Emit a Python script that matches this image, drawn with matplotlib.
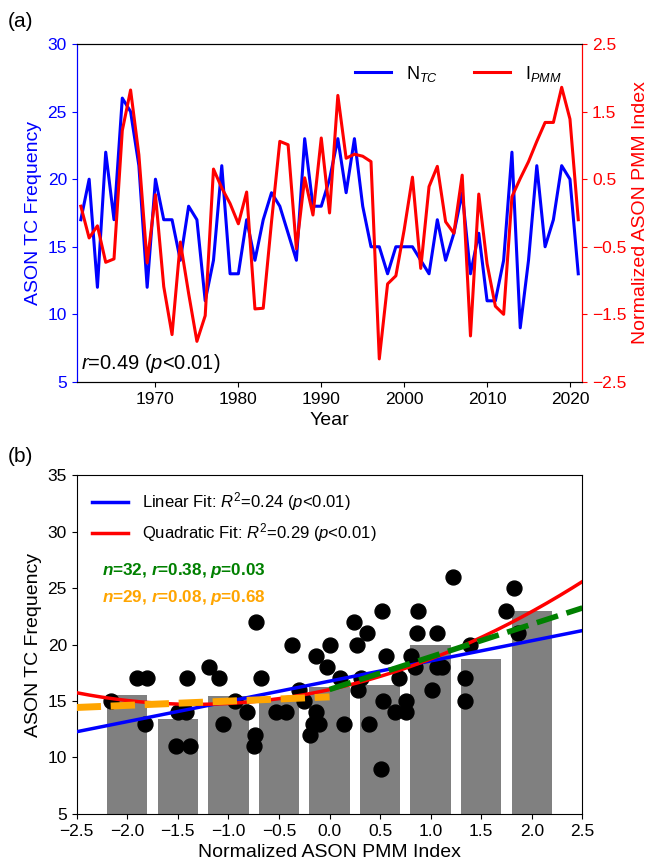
import matplotlib
matplotlib.use("Agg")
import matplotlib.pyplot as plt
import numpy as np

plt.rcParams["font.family"] = ["Liberation Sans", "DejaVu Sans"]
plt.rcParams["mathtext.fontset"] = "custom"
plt.rcParams["mathtext.rm"] = "Liberation Sans"
plt.rcParams["mathtext.it"] = "Liberation Sans:italic"
plt.rcParams["mathtext.bf"] = "Liberation Sans:bold"
if "mathtext.bfit" in plt.rcParams:
    plt.rcParams["mathtext.bfit"] = "Liberation Sans:bold:italic"

# yearly series 1961-2021
years = list(range(1961, 2022))
n_tc = [17, 20, 12, 22, 17, 26, 25, 21, 12, 20,
        17, 17, 14, 18, 17, 11, 14, 21, 13, 13,
        17, 14, 17, 19, 18, 16, 14, 23, 18, 18,
        20, 23, 19, 23, 18, 15, 15, 13, 15, 15,
        15, 14, 13, 17, 14, 16, 19, 13, 16, 11,
        11, 14, 22, 9, 14, 21, 15, 17, 21, 20, 13]
i_pmm = [0.10, -0.37, -0.19, -0.73, -0.68, 1.22, 1.82, 0.86, -0.74, 0.27,
         -1.09, -1.80, -0.43, -1.19, -1.90, -1.52, 0.65, 0.37, 0.14, -0.16,
         0.31, -1.42, -1.41, -0.13, 1.06, 1.01, -0.53, 0.52, -0.03, 1.11,
         0.00, 1.74, 0.81, 0.87, 0.84, 0.76, -2.16, -1.05, -0.93, -0.25,
         0.53, -0.82, 0.39, 0.69, -0.13, -0.30, 0.56, -1.82, 0.28, -0.75,
         -1.38, -1.50, 0.24, 0.51, 0.76, 1.06, 1.34, 1.34, 1.86, 1.39, -0.10]

# binned means for panel (b)
bin_centers = [-2.0, -1.5, -1.0, -0.5, 0.0, 0.5, 1.0, 1.5, 2.0]
bin_means = [15.5, 13.4, 15.4, 15.3, 16.2, 16.4, 20.0, 18.7, 23.0]

TICK = 12.5; LAB = 14

fig = plt.figure(figsize=(6.5, 8.64), dpi=100)

# ---- (a) time series
ax1 = fig.add_axes([0.118, 0.558, 0.778, 0.391])
ax2 = ax1.twinx()
l1, = ax1.plot(years, n_tc, color="blue", lw=2.2, label="N$_{TC}$")
l2, = ax2.plot(years, i_pmm, color="red", lw=2.2, label="I$_{PMM}$")
ax1.set_xlim(1960.5, 2021.5); ax1.set_ylim(5, 30); ax2.set_ylim(-2.5, 2.5)
ax1.set_yticks([5, 10, 15, 20, 25, 30]); ax2.set_yticks([-2.5, -1.5, -0.5, 0.5, 1.5, 2.5])
ax1.set_xticks([1970, 1980, 1990, 2000, 2010, 2020])
ax1.set_xlabel("Year", fontsize=LAB)
ax1.set_ylabel("ASON TC Frequency", color="blue", fontsize=LAB)
ax2.set_ylabel("Normalized ASON PMM Index", color="red", fontsize=LAB)
ax1.tick_params(axis="y", colors="blue", labelsize=TICK); ax1.tick_params(axis="x", labelsize=TICK)
ax2.tick_params(axis="y", colors="red", labelsize=TICK)
ax2.spines["left"].set_color("blue"); ax2.spines["right"].set_color("red")
ax1.spines["left"].set_color("blue"); ax1.spines["right"].set_color("red")
ax2.legend([l1, l2], [l1.get_label(), l2.get_label()], loc="upper right", ncol=2, frameon=False,
           fontsize=13, handlelength=2.0, columnspacing=2.0, bbox_to_anchor=(0.99, 0.99))
ax1.text(0.008, 0.02, "$r$=0.49 ($p$<0.01)", transform=ax1.transAxes, fontsize=14.5, ha="left", va="bottom")
fig.text(0.012, 0.975, "(a)", fontsize=15, ha="left", va="center")

# ---- (b) scatter with fits
x = np.asarray(i_pmm); y = np.asarray(n_tc, dtype=float)
ax = fig.add_axes([0.118, 0.058, 0.778, 0.392])
ax.bar(bin_centers, bin_means, width=0.4, color="gray", zorder=1)
ax.scatter(x, y, s=115, color="black", zorder=2)
xx = np.linspace(-2.5, 2.5, 200)
lin = np.polyfit(x, y, 1); quad = np.polyfit(x, y, 2)
ax.plot(xx, np.polyval(lin, xx), color="blue", lw=2.5, zorder=3, label="Linear Fit: $R^2$=0.24 ($p$<0.01)")
ax.plot(xx, np.polyval(quad, xx), color="red", lw=2.5, zorder=3, label="Quadratic Fit: $R^2$=0.29 ($p$<0.01)")
pos = x >= 0; neg = x < 0
xp = np.linspace(0, 2.5, 50); xn = np.linspace(-2.5, 0, 50)
ax.plot(xp, np.polyval(np.polyfit(x[pos], y[pos], 1), xp), color="green", lw=4, ls=(0, (4, 1.6)), zorder=4)
ax.plot(xn, np.polyval(np.polyfit(x[neg], y[neg], 1), xn), color="orange", lw=5, ls=(0, (3.5, 1.4)), zorder=4)
ax.set_xlim(-2.5, 2.5); ax.set_ylim(5, 35)
ax.set_xticks(np.arange(-2.5, 2.51, 0.5)); ax.set_yticks(range(5, 36, 5))
ax.tick_params(labelsize=TICK)
ax.set_xlabel("Normalized ASON PMM Index", fontsize=LAB); ax.set_ylabel("ASON TC Frequency", fontsize=LAB)
ax.legend(loc="upper left", frameon=False, fontsize=12, handlelength=2.2, borderaxespad=0.5)
ax.text(-2.25, 26.6, r"$\mathbfit{n}$=32, $\mathbfit{r}$=0.38, $\mathbfit{p}$=0.03", color="green",
        fontsize=12.3, fontweight="bold", ha="left", va="center")
ax.text(-2.25, 24.2, r"$\mathbfit{n}$=29, $\mathbfit{r}$=0.08, $\mathbfit{p}$=0.68", color="orange",
        fontsize=12.3, fontweight="bold", ha="left", va="center")
fig.text(0.012, 0.472, "(b)", fontsize=15, ha="left", va="center")

fig.savefig("out.png", dpi=100)
